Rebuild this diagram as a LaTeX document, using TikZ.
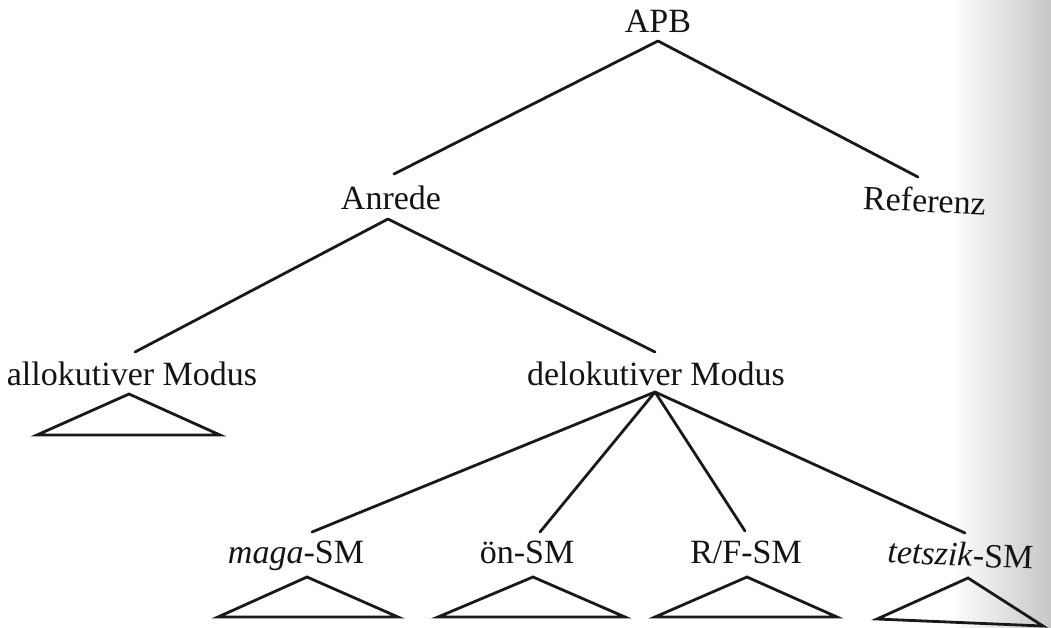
\documentclass[tikz,border=0pt]{standalone}
\usepackage{fontspec}
\setmainfont{Liberation Serif}
\begin{document}
\begin{tikzpicture}[x=1pt,y=-1pt,
  lbl/.style={anchor=base, inner sep=0pt, font=\fontsize{34}{40}\selectfont, text=black!92},
  edge/.style={line width=2.8pt, draw=black!90, line cap=round},
  roof/.style={line width=2.8pt, draw=black!90, line join=miter}]
% page
\fill[white] (0,0) rectangle (1051,627);
\useasboundingbox (0,0) rectangle (1051,627);
\shade[left color=white, right color=black!22] (950,0) rectangle (1051,627);

% labels
\node[lbl] (apb) at (658,32) {APB};
\node[lbl] (anrede) at (391,209) {Anrede};
\node[lbl, rotate=-2.5] (referenz) at (924,212) {Referenz};
\node[lbl] (allo) at (132,385) {allokutiver Modus};
\node[lbl] (delo) at (656,385) {delokutiver Modus};
\node[lbl] (maga) at (296,563) {\textit{maga}-SM};
\node[lbl] (oen) at (527,563) {ön-SM};
\node[lbl] (rf) at (746,563) {R/F-SM};
\node[lbl, rotate=-2.5] (tetszik) at (960,566) {\textit{tetszik}-SM};

% branch points above and below the labels
\coordinate (apb-foot) at (658,41);
\coordinate (anrede-head) at (394,174);
\coordinate (anrede-foot) at (388,219);
\coordinate (referenz-head) at (918,177);
\coordinate (allo-head) at (135,352);
\coordinate (allo-foot) at (129,394);
\coordinate (delo-head) at (655,352);
\coordinate (delo-foot) at (655,392);
\coordinate (maga-head) at (312,532);
\coordinate (maga-foot) at (307,577);
\coordinate (oen-head) at (540,532);
\coordinate (oen-foot) at (533,577);
\coordinate (rf-head) at (745,531);
\coordinate (rf-foot) at (747,577);
\coordinate (tetszik-head) at (965,533);
\coordinate (tetszik-foot) at (968,578);

% tree branches
\draw[edge] (apb-foot) -- (anrede-head);
\draw[edge] (apb-foot) -- (referenz-head);
\draw[edge] (anrede-foot) -- (allo-head);
\draw[edge] (anrede-foot) -- (delo-head);
\draw[edge] (delo-foot) -- (maga-head);
\draw[edge] (delo-foot) -- (oen-head);
\draw[edge] (delo-foot) -- (rf-head);
\draw[edge] (delo-foot) -- (tetszik-head);

% collapsed subtrees
\draw[roof] (allo-foot) -- (37,435) -- (220,435) -- cycle;
\draw[roof] (maga-foot) -- (218,617) -- (398,617) -- cycle;
\draw[roof] (oen-foot) -- (438,617) -- (625,617) -- cycle;
\draw[roof] (rf-foot) -- (655,617) -- (837,617) -- cycle;
\draw[roof] (tetszik-foot) -- (877,619) -- (1043,626) -- cycle;
\end{tikzpicture}
\end{document}
